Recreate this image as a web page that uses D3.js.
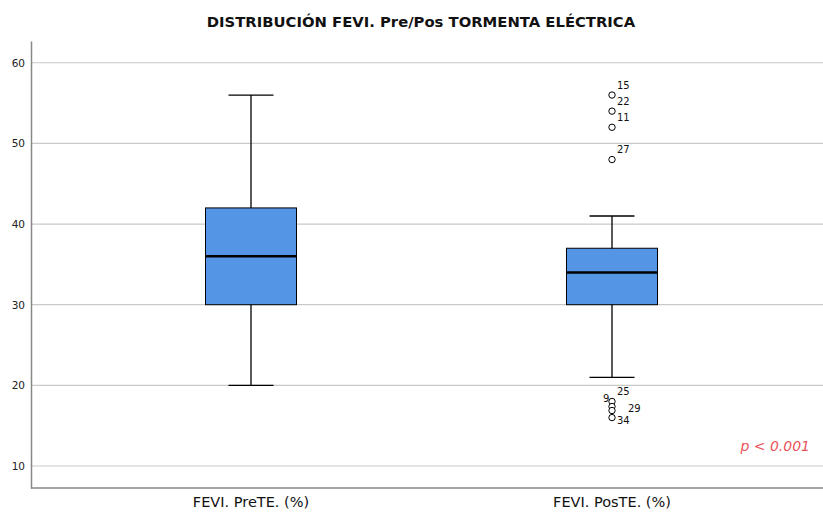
<!DOCTYPE html>
<html>
<head>
<meta charset="utf-8">
<script src="https://cdn.jsdelivr.net/npm/d3@7"></script>
<style>
  body { margin: 0; background: #fff; }
  svg { display: block; font-family: "DejaVu Sans", Verdana, sans-serif; }
</style>
</head>
<body>
<svg id="chart" width="823" height="512"></svg>
<script>
// Box plot summaries (FEVI %, before / after electrical storm)
const categories = ["FEVI. PreTE. (%)", "FEVI. PosTE. (%)"];
const lowWhisker = [20, 21];
const q1 = [30, 30];
const median = [36, 34];
const q3 = [42, 37];
const highWhisker = [56, 41];

// Outlying cases of the post-storm group, with case numbers
const outlierValues = [56, 54, 52, 48, 18, 17, 17, 16];
const outlierCases = ["15", "22", "11", "27", "25", "9", "29", "34"];
const outlierGroup = [1, 1, 1, 1, 1, 1, 1, 1];

const yTicks = [10, 20, 30, 40, 50, 60];
const title = "DISTRIBUCIÓN FEVI. Pre/Pos TORMENTA ELÉCTRICA";
const note = "p < 0.001";

const svg = d3.select("#chart");
const W = 823, H = 512;
const m = { left: 31, right: 0, top: 41, bottom: 24 };

const y = d3.scaleLinear().domain([7.27, 62.7]).range([H - m.bottom, m.top]);
const x = d3.scaleBand().domain(categories).range([70.5, 792.5]);

// Title
svg.append("text")
  .attr("x", 421).attr("y", 27)
  .attr("text-anchor", "middle")
  .attr("font-weight", "bold")
  .attr("font-size", 14.8)
  .attr("fill", "#111")
  .text(title);

// Gridlines
svg.append("g").selectAll("line").data(yTicks).join("line")
  .attr("x1", m.left).attr("x2", W)
  .attr("y1", d => y(d)).attr("y2", d => y(d))
  .attr("stroke", "#c9c9c9").attr("stroke-width", 1.2);

// Y axis
const yAxis = svg.append("g")
  .attr("transform", `translate(${m.left},0)`)
  .call(d3.axisLeft(y).tickValues(yTicks).tickSize(0).tickPadding(6));
yAxis.select(".domain").attr("stroke", "#888").attr("stroke-width", 1.5);
yAxis.selectAll("text").attr("font-size", 10.5).attr("fill", "#222")
  .attr("font-family", "DejaVu Sans, sans-serif");

// X axis (baseline spans the full plot width)
const xAxis = svg.append("g")
  .attr("transform", `translate(0,${H - m.bottom})`)
  .call(d3.axisBottom(x).tickSize(0).tickPadding(7));
xAxis.select(".domain").remove();
xAxis.append("line")
  .attr("x1", m.left).attr("x2", W)
  .attr("stroke", "#888").attr("stroke-width", 1.5);
xAxis.selectAll("text").attr("font-size", 14.5).attr("fill", "#111")
  .attr("dy", "0.85em")
  .attr("font-family", "DejaVu Sans, sans-serif");

const boxW = 91, capW = 45;
const cx = i => x(categories[i]) + x.bandwidth() / 2;

const groups = svg.append("g").selectAll("g").data(categories).join("g");

// Whiskers
groups.append("line")
  .attr("x1", (d, i) => cx(i)).attr("x2", (d, i) => cx(i))
  .attr("y1", (d, i) => y(lowWhisker[i])).attr("y2", (d, i) => y(highWhisker[i]))
  .attr("stroke", "#000").attr("stroke-width", 1.3);
groups.append("line")
  .attr("x1", (d, i) => cx(i) - capW / 2).attr("x2", (d, i) => cx(i) + capW / 2)
  .attr("y1", (d, i) => y(lowWhisker[i])).attr("y2", (d, i) => y(lowWhisker[i]))
  .attr("stroke", "#000").attr("stroke-width", 1.3);
groups.append("line")
  .attr("x1", (d, i) => cx(i) - capW / 2).attr("x2", (d, i) => cx(i) + capW / 2)
  .attr("y1", (d, i) => y(highWhisker[i])).attr("y2", (d, i) => y(highWhisker[i]))
  .attr("stroke", "#000").attr("stroke-width", 1.3);

// Boxes
groups.append("rect")
  .attr("x", (d, i) => cx(i) - boxW / 2)
  .attr("width", boxW)
  .attr("y", (d, i) => y(q3[i]))
  .attr("height", (d, i) => y(q1[i]) - y(q3[i]))
  .attr("fill", "#5595e5")
  .attr("stroke", "#000").attr("stroke-width", 1);

// Medians
groups.append("line")
  .attr("x1", (d, i) => cx(i) - boxW / 2).attr("x2", (d, i) => cx(i) + boxW / 2)
  .attr("y1", (d, i) => y(median[i])).attr("y2", (d, i) => y(median[i]))
  .attr("stroke", "#000").attr("stroke-width", 2.6);

// Outliers: small open circles with case labels at their upper right
const labelOffset = [[5, -10], [5, -10], [5, -10], [5, -10], [5, -10], [-9, -8], [16, -2], [5, 3]];
const yNudge = [0, 0, 0, 0, 0, -3, 1, 0];
const outG = svg.append("g");
outlierValues.forEach((v, k) => {
  const px = cx(outlierGroup[k]);
  const py = y(v) + yNudge[k];
  outG.append("circle")
    .attr("cx", px).attr("cy", py).attr("r", 3.2)
    .attr("fill", "#fff").attr("stroke", "#000").attr("stroke-width", 1);
  outG.append("text")
    .attr("x", px + labelOffset[k][0]).attr("y", py + labelOffset[k][1])
    .attr("dy", "0.35em")
    .attr("font-size", 10).attr("fill", "#111")
    .text(outlierCases[k]);
});

// Significance note
svg.append("text")
  .attr("x", 810).attr("y", 451)
  .attr("text-anchor", "end")
  .attr("font-style", "italic")
  .attr("font-size", 14)
  .attr("fill", "#e8535a")
  .text(note);
</script>
</body>
</html>
